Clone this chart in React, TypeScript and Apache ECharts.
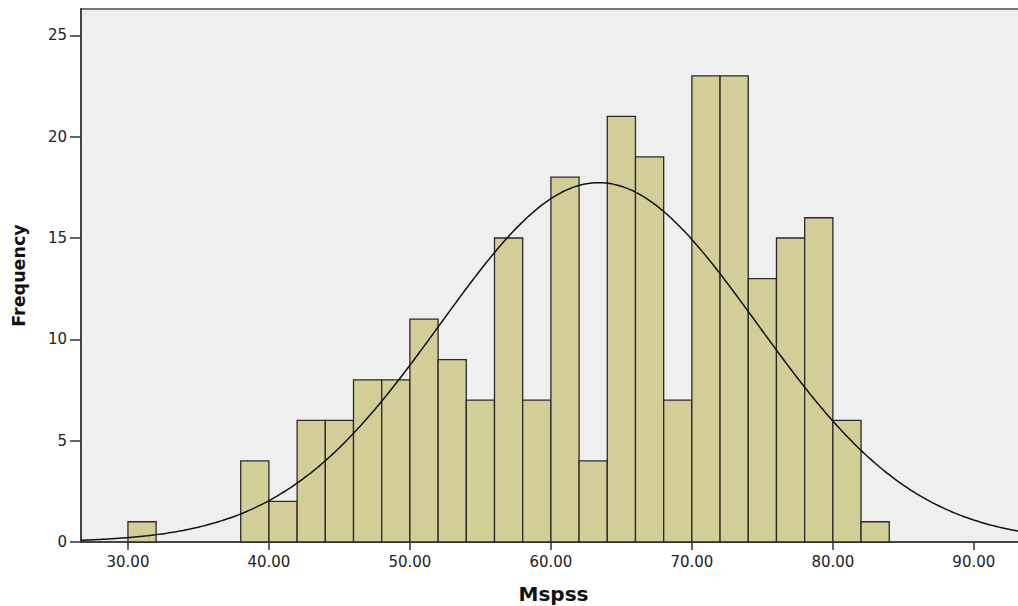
import React, { useEffect, useRef } from "react";
import * as echarts from "echarts";

const binStarts = [30, 38, 40, 42, 44, 46, 48, 50, 52, 54, 56, 58, 60, 62, 64, 66, 68, 70, 72, 74, 76, 78, 80, 82];
const counts = [1, 4, 2, 6, 6, 8, 8, 11, 9, 7, 15, 7, 18, 4, 21, 19, 7, 23, 23, 13, 15, 16, 6, 1];
const binWidth = 2;
const xTicks = [30, 40, 50, 60, 70, 80, 90];
const yTicks = [0, 5, 10, 15, 20, 25];
const fitMean = 63.4;
const fitSd = 11.25;
const fitN = 250;

const X_MIN = 26.67;
const X_MAX = 93.7;

function normalCurve(): number[][] {
  const pts: number[][] = [];
  const k = (fitN * binWidth) / (fitSd * Math.sqrt(2 * Math.PI));
  for (let x = X_MIN; x <= X_MAX + 0.001; x += 0.25) {
    const z = (x - fitMean) / fitSd;
    pts.push([x, k * Math.exp(-0.5 * z * z)]);
  }
  return pts;
}

export default function App() {
  const ref = useRef<HTMLDivElement>(null);
  useEffect(() => {
    if (!ref.current) return;
    const chart = echarts.init(ref.current, undefined, { renderer: "svg" });
    const font = "'DejaVu Sans', sans-serif";
    chart.setOption({
      animation: false,
      grid: {
        left: 81,
        top: 9,
        width: 945,
        height: 533,
        outerBoundsMode: "none",
        containLabel: false,
        show: true,
        backgroundColor: "#efefef",
        borderColor: "#777",
        borderWidth: 2,
      },
      xAxis: {
        type: "value",
        min: X_MIN,
        max: X_MAX,
        name: "Mspss",
        nameLocation: "middle",
        nameGap: 42,
        nameTextStyle: { fontFamily: font, fontWeight: "bold", fontSize: 20, lineHeight: 20, color: "#111" },
        splitLine: { show: false },
        axisLine: { show: true, onZero: false, lineStyle: { color: "#444", width: 2 } },
        axisTick: { show: true, length: 8, customValues: xTicks, lineStyle: { color: "#333", width: 1.5 } },
        axisLabel: {
          customValues: xTicks,
          formatter: (v: number) => v.toFixed(2),
          fontFamily: font,
          fontSize: 15,
          color: "#222",
          margin: 12,
        },
      },
      yAxis: {
        type: "value",
        min: 0,
        max: 26.3,
        interval: 5,
        name: "Frequency",
        nameLocation: "middle",
        nameGap: 53,
        nameTextStyle: { fontFamily: font, fontWeight: "bold", fontSize: 17.5, color: "#111" },
        splitLine: { show: false },
        axisLine: { show: true, lineStyle: { color: "#444", width: 2 } },
        axisTick: { show: true, length: 11, customValues: yTicks, lineStyle: { color: "#333", width: 1.5 } },
        axisLabel: {
          customValues: yTicks,
          fontFamily: font,
          fontSize: 15,
          color: "#222",
          margin: 14,
        },
      },
      series: [
        {
          type: "custom",
          data: binStarts.map((s, i) => [s, s + binWidth, counts[i]]),
          renderItem: (params: any, api: any) => {
            const p0 = api.coord([api.value(0), api.value(2)]);
            const p1 = api.coord([api.value(1), 0]);
            return {
              type: "rect",
              shape: { x: p0[0], y: p0[1], width: p1[0] - p0[0], height: p1[1] - p0[1] },
              style: { fill: "#d3ce97", stroke: "#2a2a2a", lineWidth: 1.3 },
            };
          },
          z: 2,
        },
        {
          type: "line",
          data: normalCurve(),
          showSymbol: false,
          smooth: true,
          lineStyle: { color: "#111", width: 1.5 },
          z: 3,
        },
      ],
    });
    return () => chart.dispose();
  }, []);
  return (
    <div style={{ position: "fixed", left: 0, top: 0, width: 1018, height: 606, overflow: "hidden", background: "#fff" }}>
      <div ref={ref} style={{ width: 1040, height: 606 }} />
    </div>
  );
}
